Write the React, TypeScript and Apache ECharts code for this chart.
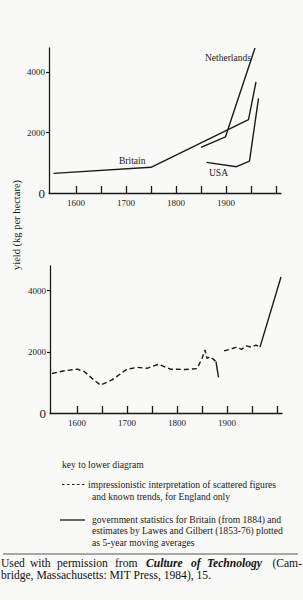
import React, { useEffect, useRef } from "react";
import * as echarts from "echarts";

// ---- data (year, yield kg/ha) ----
const yTicks = [0, 2000, 4000];
const xLabelYears = [1600, 1700, 1800, 1900];
const xTickYears = [1600, 1650, 1700, 1750, 1800, 1850, 1900, 1950, 2000];

const topBritain = [[1555, 650], [1750, 850], [1945, 2430], [1960, 3680]];
const topNetherlands = [[1850, 1510], [1899, 1860], [1958, 4800]];
const topUSA = [[1861, 1015], [1921, 870], [1947, 1058], [1965, 3130]];

const lowerDashedEarly = [
  [1550, 1290], [1575, 1380], [1601, 1430], [1615, 1350], [1630, 1130],
  [1647, 910], [1670, 1080], [1700, 1430], [1720, 1490], [1740, 1460],
  [1763, 1590], [1787, 1430], [1817, 1420], [1840, 1450], [1850, 1780],
  [1856, 2060], [1860, 1780], [1866, 1840], [1873, 1750], [1878, 1680],
];
const lowerSolidDrop = [[1878, 1680], [1883, 1160]];
const lowerDashedLate = [
  [1894, 2030], [1906, 2080], [1919, 2150], [1929, 2080], [1939, 2190],
  [1949, 2150], [1958, 2220], [1966, 2150],
];
const lowerSolidLate = [[1966, 2150], [2008, 4440]];

const INK = "#1a1a1a";
const SERIF = "'Liberation Serif', 'Times New Roman', serif";

function axisX(gridIndex: number) {
  return {
    type: "value" as const,
    gridIndex,
    min: 1546,
    max: 2010,
    axisLine: { show: true, lineStyle: { color: INK, width: 1.3 } },
    axisTick: {
      show: true,
      inside: true,
      length: 7,
      customValues: xTickYears,
      lineStyle: { color: INK, width: 1.3 },
    },
    axisLabel: {
      customValues: xLabelYears,
      color: INK,
      fontFamily: SERIF,
      fontSize: 9,
      margin: 5,
      formatter: (v: number) => String(v),
    },
    splitLine: { show: false },
  };
}

function axisY(gridIndex: number) {
  return {
    type: "value" as const,
    gridIndex,
    min: 0,
    max: 4800,
    axisLine: { show: true, lineStyle: { color: INK, width: 1.3 } },
    axisTick: {
      show: true,
      inside: false,
      length: 3,
      customValues: [2000, 4000],
      lineStyle: { color: INK, width: 1.2 },
    },
    axisLabel: {
      customValues: yTicks,
      color: INK,
      fontFamily: SERIF,
      fontSize: 9,
      margin: 4,
      formatter: (v: number) => (v === 0 ? "{z|0}" : String(v)),
      rich: { z: { fontSize: 13, fontFamily: SERIF, color: INK } },
    },
    splitLine: { show: false },
  };
}

function line(data: number[][], idx: number, dashed: boolean) {
  return {
    type: "line" as const,
    xAxisIndex: idx,
    yAxisIndex: idx,
    data,
    symbol: "none",
    silent: true,
    lineStyle: { color: INK, width: 1.4, type: dashed ? [5, 3] : "solid" },
  };
}

function txt(x: number, y: number, text: string, font: string, extra: any = {}) {
  return {
    type: "text",
    x,
    y,
    silent: true,
    style: {
      text,
      fill: INK,
      font,
      textVerticalAlign: "middle",
      ...extra,
    },
  };
}

const KEY = `9.6px ${SERIF}`;
const CAP = `11.6px ${SERIF}`;
const CAPI = `italic bold 11.6px ${SERIF}`;

// justified first caption line: [left x, word, italic]
const captionWords: [number, string, boolean][] = [
  [1, "Used", false],
  [30, "with", false],
  [57, "permission", false],
  [115, "from", false],
  [146, "Culture", true],
  [191, "of", true],
  [207, "Technology", true],
];

export default function App() {
  const ref = useRef<HTMLDivElement>(null);
  useEffect(() => {
    if (!ref.current) return;
    const chart = echarts.init(ref.current, undefined, { renderer: "svg" });
    chart.setOption({
      animation: false,
      backgroundColor: "#f9f9f7",
      grid: [
        { left: 49, top: 48, width: 232, height: 145 },
        { left: 50, top: 266, width: 232, height: 147 },
      ],
      xAxis: [axisX(0), axisX(1)],
      yAxis: [axisY(0), axisY(1)],
      series: [
        line(topBritain, 0, false),
        line(topNetherlands, 0, false),
        line(topUSA, 0, false),
        line(lowerDashedEarly, 1, true),
        line(lowerSolidDrop, 1, false),
        line(lowerDashedLate, 1, true),
        line(lowerSolidLate, 1, false),
      ],
      graphic: [
        txt(205, 58, "Netherlands", `9.5px ${SERIF}`),
        txt(119, 161, "Britain", `9.5px ${SERIF}`),
        txt(209, 173, "USA", `9.5px ${SERIF}`),
        {
          type: "text",
          x: 16,
          y: 225,
          rotation: Math.PI / 2,
          silent: true,
          style: {
            text: "yield (kg per hectare)",
            fill: INK,
            font: `10.5px ${SERIF}`,
            textAlign: "center",
            textVerticalAlign: "middle",
          },
        },
        txt(62, 464, "key to lower diagram", KEY),
        {
          type: "line",
          silent: true,
          shape: { x1: 62, y1: 484.5, x2: 85, y2: 484.5 },
          style: { stroke: INK, lineWidth: 1, lineDash: [2.5, 2.5] },
        },
        txt(88, 484, "impressionistic interpretation of scattered figures", KEY),
        txt(92, 496.5, "and known trends, for England only", KEY),
        {
          type: "line",
          silent: true,
          shape: { x1: 60, y1: 520, x2: 85, y2: 520 },
          style: { stroke: INK, lineWidth: 1.3 },
        },
        txt(92, 519.5, "government statistics for Britain (from 1884) and", KEY),
        txt(92, 530.5, "estimates by Lawes and Gilbert (1853-76) plotted", KEY),
        txt(92, 542, "as 5-year moving averages", KEY),
        {
          type: "line",
          silent: true,
          shape: { x1: 3, y1: 554, x2: 298, y2: 554 },
          style: { stroke: "#555", lineWidth: 1 },
        },
        ...captionWords.map(([x, w, it]) =>
          txt(x, 563, w, it ? CAPI : CAP, { fill: "#111" })
        ),
        txt(302, 563, "(Cam-", CAP, { fill: "#111", textAlign: "right" }),
        txt(1, 575, "bridge, Massachusetts: MIT Press, 1984), 15.", CAP, { fill: "#111" }),
      ],
    });
    return () => chart.dispose();
  }, []);
  return (
    <div
      ref={ref}
      style={{ position: "absolute", left: 0, top: 0, width: 303, height: 600 }}
    />
  );
}
